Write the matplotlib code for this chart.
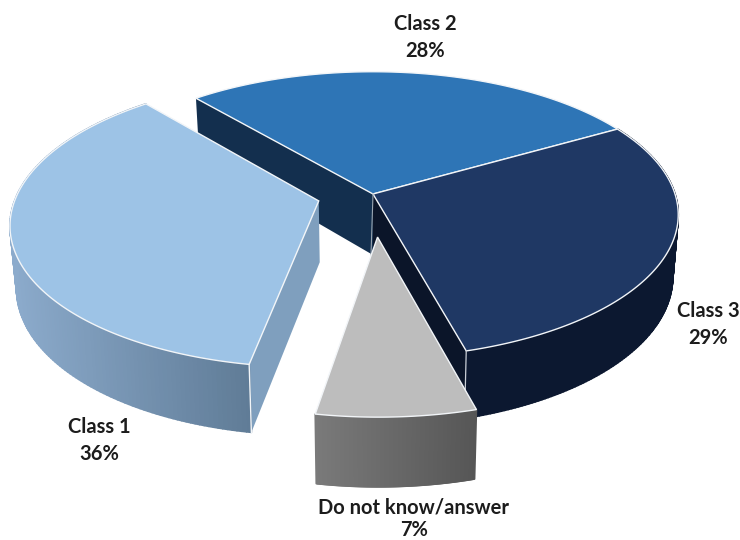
import numpy as np
import matplotlib
matplotlib.use("Agg")
import matplotlib.pyplot as plt
from matplotlib.colors import to_rgb
from matplotlib.patches import Polygon
from matplotlib.collections import PolyCollection

categories = ["Class 1", "Class 2", "Class 3", "Do not know/answer"]
shares = [36, 28, 29, 7]
explode = [0.185, 0.0, 0.0, 0.295]
top_colors = ["#9dc3e6", "#2e75b6", "#1f3864", "#bdbdbd"]
radial_colors = ["#7f9fbe", "#132f4e", "#0b1529", "#666666"]
rim_left = ["#8cabcc", "#1f4f7c", "#0c1830", "#7a7a7a"]
rim_right = ["#607c97", "#1f4f7c", "#0c1830", "#565656"]
start_angle = 260.2

CX, CY, A, B, K, H, Q, HK = 373, 194, 302, 140, 0.145, 61, 0.982, 0.11


def proj(x, y, z=0.0):
    x, y = np.asarray(x, float), np.asarray(y, float)
    s = 1 / (1 + K * y)
    sx = A * x * s
    sy = -B * y * s
    if z:
        sx = sx * Q
        sy = sy + H * (1 - HK * y)
    return np.column_stack([CX + sx, CY + sy])


fig = plt.figure(figsize=(7.4, 5.4), dpi=100)
ax = fig.add_axes([0, 0, 1, 1])
ax.set_xlim(0, 740)
ax.set_ylim(540, 0)
ax.axis("off")

angles = start_angle - np.cumsum([0] + [v * 3.6 for v in shares])
spans = [(angles[i], angles[i + 1]) for i in range(4)]


def geom(i):
    a0, a1 = np.radians(spans[i])
    mid = (a0 + a1) / 2
    ox, oy = explode[i] * np.cos(mid), explode[i] * np.sin(mid)
    t = np.linspace(a0, a1, 160)
    return ox, oy, t, ox + np.cos(t), oy + np.sin(t)


def radial(i, end):
    ox, oy, t, x, y = geom(i)
    j = 0 if end == 0 else -1
    p = np.vstack([proj([ox, x[j]], [oy, y[j]]), proj([x[j], ox], [y[j], oy], 1)])
    ax.add_patch(Polygon(p, closed=True, fc=radial_colors[i], ec="none", lw=0))
    return p


def rim(i):
    ox, oy, t, x, y = geom(i)
    top, bot = proj(x, y), proj(x, y, 1)
    lo, hi = top[:, 0].min(), top[:, 0].max()
    c0, c1 = np.array(to_rgb(rim_left[i])), np.array(to_rgb(rim_right[i]))
    quads, cols = [], []
    for k in range(len(t) - 1):
        quads.append([top[k], top[k + 1], bot[k + 1], bot[k]])
        f = np.clip((top[k, 0] - lo) / (hi - lo), 0, 1)
        cols.append(c0 + (c1 - c0) * f)
    ax.add_collection(PolyCollection(quads, facecolors=cols, edgecolors=cols, linewidths=1.2))
    return top, bot


def top(i, outline=True):
    ox, oy, t, x, y = geom(i)
    p = np.vstack([proj([ox], [oy]), proj(x, y)])
    ax.add_patch(Polygon(p, closed=True, fc=top_colors[i], ec="#f2f5f8", lw=1.0, joinstyle="miter"))
    return p


# far pieces first
radial(1, 0)
rim(2)
radial(2, -1)
top(1)
top(2)
pa = proj([0], [0])[0]
pb = proj([0], [0], 1)[0]
ax.plot([pa[0], pa[0] - 2], [pa[1], pb[1]], color="#9aa5b1", lw=0.8, zorder=1)
ox, oy, t, x, y = geom(2)
c_t, c_b = proj([x[-1]], [y[-1]])[0], proj([x[-1]], [y[-1]], 1)[0]
ax.plot([c_t[0], c_b[0]], [c_t[1], c_b[1]], color="#c9ced6", lw=0.9, zorder=1)

# Class 1
radial(0, 0)
T, Bt = rim(0)
top(0)
ax.plot([T[0, 0], Bt[0, 0]], [T[0, 1], Bt[0, 1]], color="#f2f5f8", lw=1.0, zorder=1)

# Do not know / answer
rim(3)
top(3)

label_pos = [(99, 427), (425, 24), (708, 311), (414, 508)]
for name, v, (lx, ly) in zip(categories, shares, label_pos):
    ax.text(lx, ly, name, ha="center", va="center", family="Lato", weight="bold",
            fontsize=14.5, color="#1c1c1c")
    ax.text(lx, min(ly + 27, 530), f"{v}%", ha="center", va="center", family="Lato", weight="bold",
            fontsize=14.5, color="#1c1c1c")

fig.savefig("out.png", dpi=100, facecolor="white")
